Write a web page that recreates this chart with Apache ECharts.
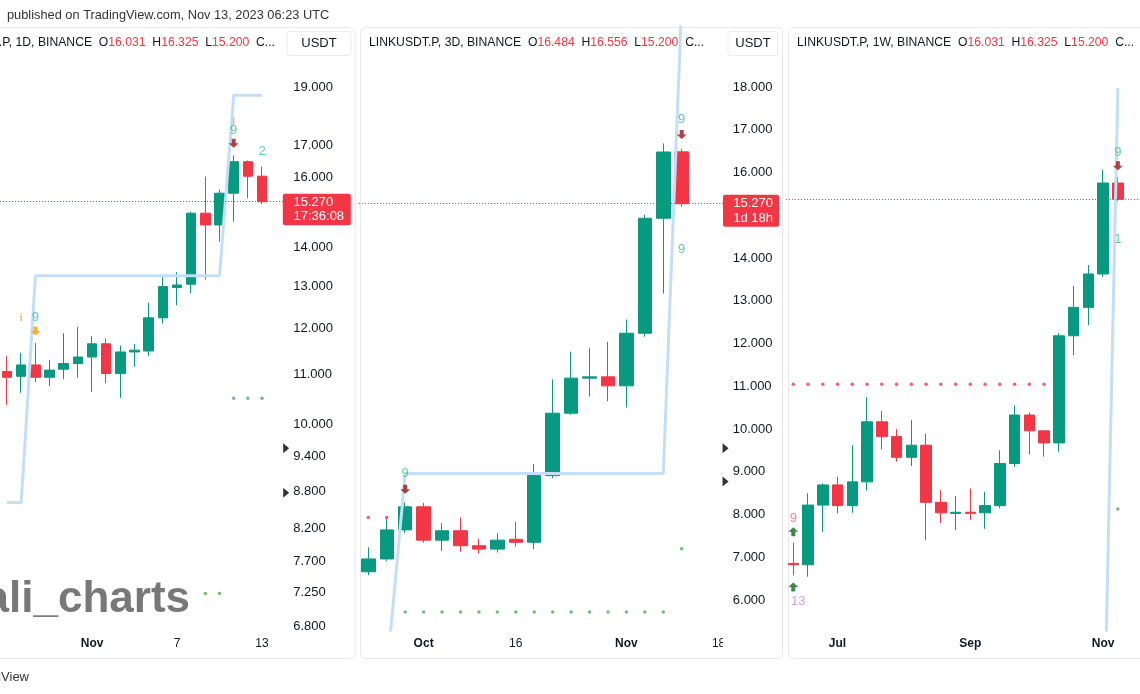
<!DOCTYPE html>
<html>
<head>
<meta charset="utf-8">
<script src="https://cdn.jsdelivr.net/npm/echarts@6/dist/echarts.min.js"></script>
<style>
  html, body { margin: 0; padding: 0; background: #ffffff; }
  #main { width: 1140px; height: 694px; }
</style>
</head>
<body>
<div id="main"></div>
<script>
// ---------------- DATA ----------------
// Panel 1 : LINKUSDT.P 1D  (open, close, low, high)
const cat1 = ['Oct 26','Oct 27','Oct 28','Oct 29','Oct 30','Oct 31','Nov 1','Nov 2','Nov 3','Nov 4','Nov 5','Nov 6','Nov 7','Nov 8','Nov 9','Nov 10','Nov 11','Nov 12','Nov 13','Nov 14'];
const ohlc1 = [
  [11.05,10.93,10.37,11.38],[10.95,11.19,10.61,11.45],[11.19,10.93,10.83,11.67],[10.93,11.08,10.75,11.30],
  [11.10,11.22,10.89,11.89],[11.22,11.36,10.92,12.03],[11.36,11.65,10.63,11.82],[11.65,11.01,10.81,11.77],
  [11.01,11.47,10.51,11.61],[11.47,11.51,11.15,11.65],[11.49,12.24,11.38,12.60],[12.24,12.99,12.11,13.28],
  [12.97,13.03,12.54,13.35],[13.05,14.94,12.83,14.98],[14.94,14.61,13.17,16.02],[14.61,15.52,14.15,15.63],
  [15.52,16.48,14.70,16.68],[16.48,16.03,15.37,16.52],[16.031,15.27,15.20,16.325]
];
const trail1 = [8.61,8.61,13.26,13.26,13.26,13.26,13.26,13.26,13.26,13.26,13.26,13.26,13.26,13.26,13.26,13.26,18.70,18.70,18.70];
const greenDots1 = [[14,7.24],[15,7.24],[16,10.50],[17,10.50],[18,10.50]];
const redDots1 = [];
const tdText1 = [ {i:2, v:12.24, t:'9', k:'setup'}, {i:16, v:17.48, t:'9', k:'setup'}, {i:18, v:16.80, t:'2', k:'setup'},
                  {i:1, v:12.24, t:'i', k:'note'}, {i:16, v:17.78, t:'i', k:'note'} ];
const tdArrows1 = [ {i:2, v:11.94, k:'warn'}, {i:16, v:17.07, k:'sell'} ];
const yTicks1 = [19, 17, 16, 14, 13, 12, 11, 10, 9.4, 8.8, 8.2, 7.7, 7.25, 6.8];
const xLabels1 = {'Nov 1':'Nov', 'Nov 7':'7', 'Nov 13':'13'};
const scaleMarks1 = [9.55, 8.77];

// Panel 2 : LINKUSDT.P 3D
const cat2 = ['Sep 22','Sep 25','Sep 28','Oct 1','Oct 4','Oct 7','Oct 10','Oct 13','Oct 16','Oct 19','Oct 22','Oct 25','Oct 28','Oct 31','Nov 3','Nov 6','Nov 9','Nov 12','Nov 15','Nov 18'];
const ohlc2 = [
  [6.66,6.96,6.58,7.23],[6.96,7.64,6.91,7.91],[7.64,8.18,7.57,8.28],[8.18,7.40,7.34,8.27],
  [7.40,7.62,7.15,7.80],[7.62,7.27,7.13,7.93],[7.27,7.19,7.09,7.43],[7.19,7.40,7.11,7.56],
  [7.42,7.35,7.25,7.83],[7.35,8.91,7.19,9.18],[8.91,10.37,8.85,11.16],[10.37,11.19,10.33,11.81],
  [11.19,11.22,10.76,11.89],[11.22,11.01,10.65,12.04],[11.01,12.24,10.50,12.56],[12.24,14.93,12.16,15.01],
  [14.93,16.48,13.17,16.68],[16.484,15.27,15.20,16.556]
];
const trail2 = [4.27,4.27,8.96,8.96,8.96,8.96,8.96,8.96,8.96,8.96,8.96,8.96,8.96,8.96,8.96,8.96,8.96,19.99];
const greenDots2 = [[2,5.72],[3,5.72],[4,5.72],[5,5.72],[6,5.72],[7,5.72],[8,5.72],[9,5.72],[10,5.72],[11,5.72],[12,5.72],[13,5.72],[14,5.72],[15,5.72],[16,5.72],[17,7.20]];
const redDots2 = [[0,7.93],[1,7.93]];
const tdText2 = [ {i:2, v:8.95, t:'9', k:'setup'}, {i:17, v:17.25, t:'9', k:'setup'}, {i:17, v:14.19, t:'9', k:'setup'} ];
const tdArrows2 = [ {i:2, v:8.59, k:'sell'}, {i:17, v:16.89, k:'sell'} ];
const yTicks2 = [18, 17, 16, 14, 13, 12, 11, 10, 9, 8, 7, 6];
const xLabels2 = {'Oct 1':'Oct', 'Oct 16':'16', 'Nov 3':'Nov', 'Nov 18':'18'};
const scaleMarks2 = [9.55, 8.77];

// Panel 3 : LINKUSDT.P 1W
const cat3 = ['Jun 12','Jun 19','Jun 26','Jul 3','Jul 10','Jul 17','Jul 24','Jul 31','Aug 7','Aug 14','Aug 21','Aug 28','Sep 4','Sep 11','Sep 18','Sep 25','Oct 2','Oct 9','Oct 16','Oct 23','Oct 30','Nov 6','Nov 13','Nov 20'];
const ohlc3 = [
  [5.15,5.13,4.97,5.48],[5.13,6.13,4.95,6.35],[6.13,6.51,5.66,6.54],[6.51,6.12,5.98,6.67],
  [6.12,6.57,5.99,7.33],[6.57,7.86,6.40,8.46],[7.86,7.52,7.24,8.12],[7.52,7.07,6.98,7.69],
  [7.07,7.33,6.89,7.90],[7.33,6.18,5.52,7.59],[6.18,5.99,5.81,6.41],[5.98,6.00,5.69,6.30],
  [6.00,5.98,5.87,6.44],[5.99,6.12,5.71,6.38],[6.12,6.94,6.07,7.22],[6.94,8.02,6.87,8.25],
  [8.02,7.65,7.13,8.08],[7.65,7.38,7.08,7.67],[7.38,10.16,7.19,10.24],[10.16,11.06,9.59,11.79],
  [11.06,12.22,10.49,12.55],[12.22,16.031,12.12,16.67],[16.031,15.27,15.20,16.325]
];
const trail3 = [null,null,null,null,null,null,null,null,null,null,null,null,null,null,null,null,null,null,null,null,null,2.67,21.27];
const greenDots3 = [[22,6.06]];
const redDots3 = [[0,8.79],[1,8.79],[2,8.79],[3,8.79],[4,8.79],[5,8.79],[6,8.79],[7,8.79],[8,8.79],[9,8.79],[10,8.79],[11,8.79],[12,8.79],[13,8.79],[14,8.79],[15,8.79],[16,8.79],[17,8.79]];
const tdText3 = [ {i:22, v:17.57, t:'9', k:'setup'}, {i:22, v:13.56, t:'1', k:'setup'},
                  {i:0, v:5.89, t:'9', k:'buySetup'}, {i:0, v:4.60, t:'13', k:'countdown'} ];
const tdArrows3 = [ {i:22, v:16.88, k:'sell'}, {i:0, v:5.66, k:'buy'}, {i:0, v:4.80, k:'buy'} ];
const yTicks3 = [];
const xLabels3 = {'Jul 3':'Jul', 'Sep 4':'Sep', 'Nov 6':'Nov'};
const scaleMarks3 = [];

const lastPrice = 15.27;
const headers = [
  {sym:'LINKUSDT.P, 1D, BINANCE', o:'16.031', h:'16.325', l:'15.200'},
  {sym:'LINKUSDT.P, 3D, BINANCE', o:'16.484', h:'16.556', l:'15.200'},
  {sym:'LINKUSDT.P, 1W, BINANCE', o:'16.031', h:'16.325', l:'15.200'}
];
const tagTimes = ['17:36:08', '1d 18h'];

// ---------------- STYLE / LAYOUT ----------------
const FONT = '"Liberation Sans", Arial, Helvetica, sans-serif';
const TXT = '#131722';
const GREEN = '#089981', RED = '#f23645';
const TRAIL = '#c3dff7';
const MONTHS = ['Jan','Feb','Mar','Apr','May','Jun','Jul','Aug','Sep','Oct','Nov','Dec'];
const kindColor = { setup:'#35c48c', buySetup:'#ef6f6f', countdown:'#d27ff0', note:'#f5a020',
                    sell:'#a10f0f', buy:'#0d6b1e', warn:'#ff9800' };
const ARROW_DOWN = 'path://M3,0L7,0L7,5L10,5L5,10L0,5L3,5Z';
const ARROW_UP = 'path://M5,0L10,5L7,5L7,10L3,10L3,5L0,5Z';
const TRI_RIGHT = 'path://M0,0L6,5L0,10Z';

const panels = [
  { cat:cat1, ohlc:ohlc1, trail:trail1, g:greenDots1, r:redDots1, td:tdText1, ar:tdArrows1, yTicks:yTicks1, xl:xLabels1, marks:scaleMarks1,
    grid:{left:-3.16, top:27, width:286.4, height:603}, y:{type:'log', min:6.754, max:21.30}, bw:10, labelMargin:10 },
  { cat:cat2, ohlc:ohlc2, trail:trail2, g:greenDots2, r:redDots2, td:tdText2, ar:tdArrows2, yTicks:yTicks2, xl:xLabels2, marks:scaleMarks2,
    grid:{left:359.1, top:27, width:368.7, height:603}, y:{type:'value', min:5.298, max:19.404}, bw:14, labelMargin:5 },
  { cat:cat3, ohlc:ohlc3, trail:trail3, g:greenDots3, r:redDots3, td:tdText3, ar:tdArrows3, yTicks:yTicks3, xl:xLabels3, marks:scaleMarks3,
    grid:{left:785.9, top:27, width:356.4, height:603}, y:{type:'log', min:4.222, max:25.54}, bw:11, labelMargin:5, hideY:true }
];

const grids = [], xAxes = [], yAxes = [], series = [];
panels.forEach((p, k) => {
  grids.push(Object.assign({containLabel:false}, p.grid));
  xAxes.push({
    type:'category', gridIndex:k, data:p.cat, boundaryGap:true,
    axisLine:{show:false}, axisTick:{show:false}, splitLine:{show:false},
    axisLabel:{
      interval:0, margin:8, color:TXT, fontSize:12, fontFamily:FONT,
      formatter:(v) => { const t = p.xl[v]; if (!t) return ''; return MONTHS.indexOf(t) >= 0 ? '{m|' + t + '}' : t; },
      rich:{ m:{fontWeight:'bold', fontSize:12, color:TXT, fontFamily:FONT} }
    }
  });
  yAxes.push({
    type:p.y.type, gridIndex:k, min:p.y.min, max:p.y.max, position:'right', show:!p.hideY,
    axisLine:{show:false}, axisTick:{show:false}, splitLine:{show:false},
    axisLabel:{ show:!p.hideY, customValues:p.yTicks, margin:p.labelMargin, color:TXT, fontSize:13, fontFamily:FONT,
                formatter:(v) => Number(v).toFixed(3) }
  });
  series.push({
    type:'candlestick', xAxisIndex:k, yAxisIndex:k, data:p.ohlc, barWidth:p.bw, z:3,
    itemStyle:{ color:GREEN, color0:RED, borderColor:GREEN, borderColor0:RED, borderWidth:1 },
    markLine:{ silent:true, symbol:['none','none'], label:{show:false},
               lineStyle:{color:RED, type:[1,2], width:1}, data:[{yAxis:lastPrice}] }
  });
  series.push({
    type:'line', xAxisIndex:k, yAxisIndex:k, data:p.trail, symbol:'none', z:4, connectNulls:false,
    lineStyle:{color:TRAIL, width:3}
  });
  series.push({ type:'scatter', xAxisIndex:k, yAxisIndex:k, data:p.g, symbol:'circle', symbolSize:3.5, z:5,
                itemStyle:{color:'#4caf50'} });
  series.push({ type:'scatter', xAxisIndex:k, yAxisIndex:k, data:p.r, symbol:'circle', symbolSize:3.5, z:5,
                itemStyle:{color:RED} });
  series.push({ type:'scatter', xAxisIndex:k, yAxisIndex:k, z:6, symbolSize:1, itemStyle:{color:'rgba(0,0,0,0)'},
                data:p.td.map(d => ({ value:[d.i, d.v],
                  label:{ show:true, position:'inside', formatter:d.t, color:kindColor[d.k],
                          offset: d.k === 'countdown' ? [5, 0] : [0, 0],
                          fontSize: d.k === 'note' ? 10 : 13, fontWeight: d.k === 'note' ? 'bold' : 'normal', fontFamily:FONT } })) });
  series.push({ type:'scatter', xAxisIndex:k, yAxisIndex:k, z:6, symbolSize:[10,9],
                data:p.ar.map(d => ({ value:[d.i, d.v], symbol: d.k === 'buy' ? ARROW_UP : ARROW_DOWN,
                                      itemStyle:{color:kindColor[d.k]} })) });
  if (p.marks.length) {
    series.push({ type:'scatter', xAxisIndex:k, yAxisIndex:k, z:7, clip:false, symbol:TRI_RIGHT, symbolSize:[6,10],
                  symbolOffset:[ k === 0 ? 10 : 7, 0],
                  itemStyle:{color:'#000000'},
                  data:p.marks.map(v => [p.cat.length - 1, v]) });
  }
});

const option = {
  animation:false,
  backgroundColor:'#ffffff',
  textStyle:{fontFamily:FONT},
  grid:grids, xAxis:xAxes, yAxis:yAxes, series:series
};

const chart = echarts.init(document.getElementById('main'));
chart.setOption(option);

// ---------------- ANNOTATIONS ----------------
function txt(x, y, text, opts, z) {
  return { type:'text', x:x, y:y, z:z || 60, silent:true,
    style:Object.assign({ text:text, font:'13px ' + FONT, fill:TXT, align:'left', verticalAlign:'middle',
                          textAlign:'left', textVerticalAlign:'middle' }, opts || {}) };
}
function header(x, y, h, alignRight) {
  const s = '{k|' + h.sym + '  O}{v|' + h.o + '}{k|  H}{v|' + h.h + '}{k|  L}{v|' + h.l + '}{k|  C...}';
  return { type:'text', x:x, y:y, z:60, silent:true,
    style:{ text:s, align: alignRight ? 'right' : 'left', textAlign: alignRight ? 'right' : 'left',
            verticalAlign:'middle', textVerticalAlign:'middle',
            rich:{ k:{fill:TXT, font:'12.2px ' + FONT}, v:{fill:RED, font:'12.2px ' + FONT} } } };
}
function frame(x, w) {
  return { type:'rect', z:-1, silent:true, shape:{x:x, y:27.5, width:w, height:631, r:5},
           style:{fill:null, stroke:'#e6e8ec', lineWidth:1} };
}
function usdt(x, w) {
  return { type:'group', z:60, children:[
    { type:'rect', shape:{x:x, y:31.5, width:w, height:24, r:3}, style:{fill:'#ffffff', stroke:'#e9ebef', lineWidth:1} },
    { type:'text', x:x + w / 2, y:43.5, style:{text:'USDT', font:'13px ' + FONT, fill:TXT, align:'center', textAlign:'center',
                                             verticalAlign:'middle', textVerticalAlign:'middle'} }
  ]};
}
const y1 = chart.convertToPixel({yAxisIndex:0}, lastPrice);
const y2 = chart.convertToPixel({yAxisIndex:1}, lastPrice);

const graphics = [
  frame(-20, 375.3), frame(360.5, 422), frame(788.5, 370),
  txt(7, 15, 'published on TradingView.com, Nov 13, 2023 06:23 UTC', {fill:'#333333', font:'12.8px ' + FONT}),
  txt(29, 677, 'TradingView', {align:'right', textAlign:'right', fill:'#333333'}),
  header(275, 43, headers[0], true),
  header(369, 43, headers[1], false),
  header(797, 43, headers[2], false),
  usdt(287, 64), usdt(728, 50),
  txt(190, 600, 'ali_charts', {font:'bold 44px ' + FONT, fill:'#787878', align:'right', textAlign:'right'}, 1),
  // price tags
  { type:'rect', z:60, silent:true, shape:{x:282.8, y:y1 - 8, width:68, height:31.5, r:2}, style:{fill:RED} },
  txt(293.5, y1 + 0.7, lastPrice.toFixed(3), {fill:'#ffffff'}, 61),
  txt(293.5, y1 + 15, tagTimes[0], {fill:'#ffffff'}, 61),
  { type:'rect', z:60, silent:true, shape:{x:723, y:y2 - 9, width:56, height:32, r:2}, style:{fill:RED} },
  txt(733.3, y2, lastPrice.toFixed(3), {fill:'#ffffff'}, 61),
  txt(733.3, y2 + 14.5, tagTimes[1], {fill:'#ffffff'}, 61),
  // clip of cut-off axis label at panel 2 price scale edge
  { type:'rect', z:40, silent:true, shape:{x:723, y:636, width:8, height:18}, style:{fill:'#ffffff'} }
];
chart.setOption({ graphic:{ elements:graphics } });
</script>
</body>
</html>
